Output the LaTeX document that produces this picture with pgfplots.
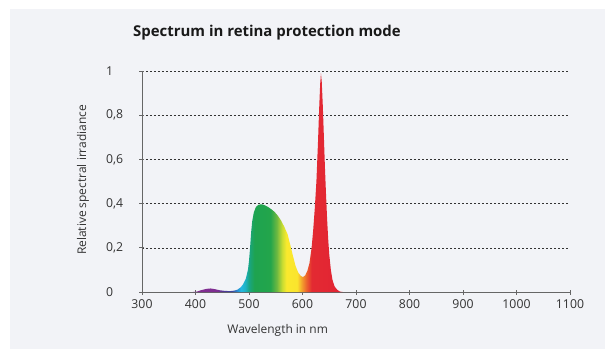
\documentclass[border=0pt]{standalone}
\usepackage{fontspec}
\setmainfont{Open Sans}
\usepackage{pgfplots}
\pgfplotsset{compat=1.18}
\usetikzlibrary{calc}
\pgfdeclarelayer{background}
\pgfsetlayers{background,main}
\definecolor{panel}{HTML}{F2F3F7}
\definecolor{sA}{RGB}{130,45,145}
\definecolor{sB}{RGB}{125,45,145}
\definecolor{sC}{RGB}{80,55,150}
\definecolor{sD}{RGB}{60,70,160}
\definecolor{sE}{RGB}{40,140,210}
\definecolor{sF}{RGB}{35,185,225}
\definecolor{sG}{RGB}{30,178,195}
\definecolor{sH}{RGB}{25,165,130}
\definecolor{sI}{RGB}{30,163,80}
\definecolor{sJ}{RGB}{35,165,75}
\definecolor{sK}{RGB}{110,185,65}
\definecolor{sL}{RGB}{200,220,50}
\definecolor{sM}{RGB}{250,233,45}
\definecolor{sN}{RGB}{250,228,45}
\definecolor{sO}{RGB}{242,150,45}
\definecolor{sP}{RGB}{235,95,45}
\definecolor{sQ}{RGB}{227,42,50}
\definecolor{sR}{RGB}{226,35,52}
\pgfdeclarehorizontalshading{spectrum}{100bp}{
color(0bp)=(sA); color(25bp)=(sA); color(26.79bp)=(sA); color(33.04bp)=(sB);
color(35.18bp)=(sC); color(38.04bp)=(sD); color(39.82bp)=(sE); color(41.07bp)=(sF);
color(42.5bp)=(sG); color(43.75bp)=(sH); color(45.54bp)=(sI); color(50.89bp)=(sJ);
color(53.04bp)=(sK); color(54.82bp)=(sL); color(56.25bp)=(sM); color(59.82bp)=(sN);
color(61.61bp)=(sO); color(63.04bp)=(sP); color(64.64bp)=(sQ); color(75bp)=(sR);
color(100bp)=(sR)}
\begin{document}
\begin{tikzpicture}
\begin{axis}[
  scale only axis, width=428bp, height=221bp,
  xmin=300, xmax=1100, ymin=0, ymax=1,
  xtick={300,400,...,1100},
  ytick={0,0.2,0.4,0.6,0.8,1},
  yticklabels={0,{0,2},{0,4},{0,6},{0,8},1},
  /pgf/number format/assume math mode=true,
  /pgf/number format/1000 sep={},
  axis x line*=bottom, axis y line*=left,
  axis line style={-, color=black!60, line width=0.8pt},
  tick style={color=black!60, line width=0.8pt},
  tick align=center, major tick length=5bp,
  ymajorgrids,
  grid style={color=black!80, line width=0.6pt, dash pattern=on 2bp off 2bp},
  tick label style={font=\fontsize{12.3}{14}\selectfont, color=black!80},
  xticklabel style={yshift=-2bp},
  yticklabel style={anchor=west, xshift=-37bp},
  every axis title shift=0pt,
  title={Spectrum in retina protection mode},
  title style={font=\fontsize{15}{18}\selectfont\bfseries, color=black!90, at={(axis description cs:0.292,1.172)}, anchor=center},
  xlabel={Wavelength in nm},
  xlabel style={font=\fontsize{12}{14}\selectfont, color=black!80, at={(axis description cs:0.317,-0.172)}, anchor=center},
  ylabel={Relative spectral irradiance},
  ylabel style={font=\fontsize{12}{14}\selectfont, color=black!80, at={(axis description cs:-0.138,0.507)}, anchor=center},
  clip=false,
]
\coordinate (LL) at (rel axis cs:0,0);
\addplot[draw=none, shading=spectrum] table {
x y
395 0
403 0.002
410 0.008
420 0.014
428 0.016
436 0.013
445 0.008
455 0.005
465 0.004
472 0.006
478 0.010
484 0.020
489 0.035
494 0.060
498 0.100
500 0.140
502 0.200
504 0.270
506 0.320
509 0.360
513 0.385
518 0.395
524 0.397
530 0.392
536 0.384
542 0.374
548 0.362
554 0.345
560 0.323
566 0.295
572 0.262
577 0.215
582 0.165
587 0.118
592 0.088
597 0.072
601 0.068
605 0.075
609 0.095
613 0.130
617 0.200
620 0.280
623 0.380
626 0.500
629 0.680
631 0.820
633 0.940
634.5 0.990
636 0.950
638 0.840
640 0.700
642 0.560
644 0.440
646 0.330
648 0.240
650 0.170
653 0.100
656 0.055
660 0.025
665 0.010
670 0.002
675 0
};
\end{axis}
\begin{pgfonlayer}{background}
\fill[white] ($(LL)+(-142bp,-57bp)$) rectangle ($(LL)+(463bp,292bp)$);
\fill[panel] ($(LL)+(-132bp,-57bp)$) rectangle ($(LL)+(463bp,283bp)$);
\end{pgfonlayer}
\end{tikzpicture}
\end{document}
